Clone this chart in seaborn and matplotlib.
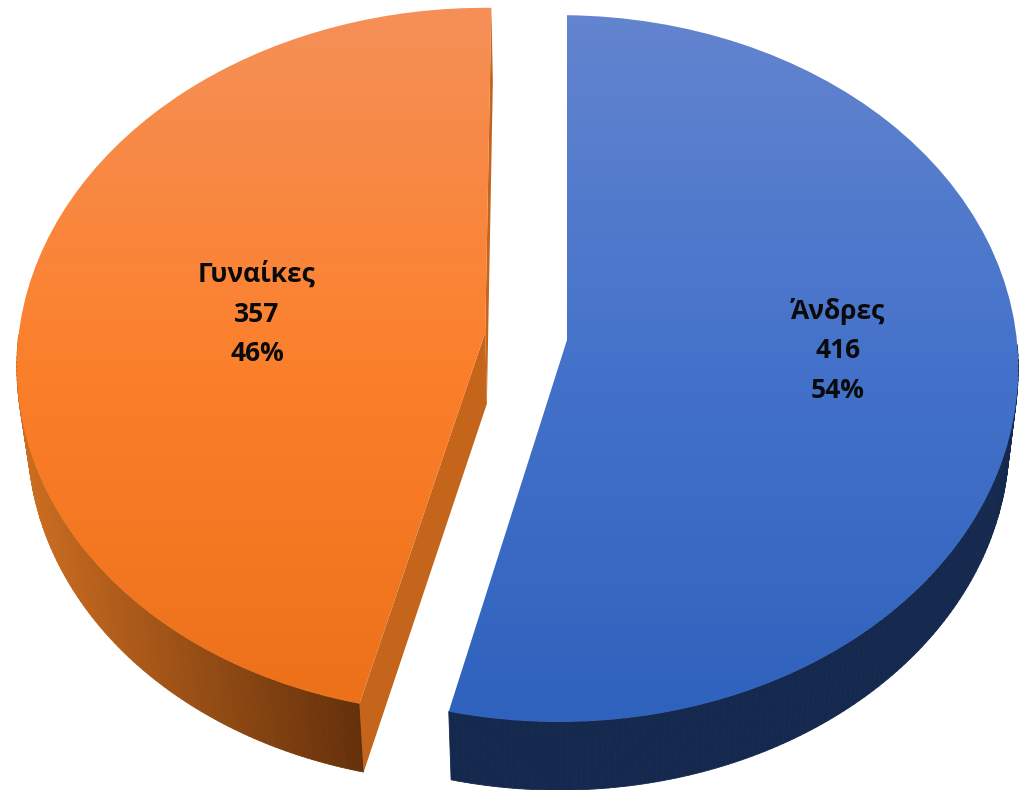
import numpy as np
import matplotlib
matplotlib.use("Agg")
import matplotlib.pyplot as plt
import seaborn as sns
from matplotlib.collections import PolyCollection
from matplotlib.transforms import Transform

categories = ["Άνδρες", "Γυναίκες"]
counts = [416, 357]
percents = [54, 46]
explode = [0, 0.18]

top_colors = [["#6485CF", "#4472CA", "#2F62BD"], ["#F59058", "#FC802C", "#EC7018"]]
side_colors = [["#16294F", "#15284E"], ["#CB6C20", "#63300A"]]
cut_color = "#C5651B"
label_xy = [(838, 351), (257, 314)]

sns.set_theme(style="white")
plt.rcParams["font.family"] = ["Open Sans", "DejaVu Sans"]


# the pie is drawn in unit coordinates, this gives it the tilted 3D view
class Tilt(Transform):
    input_dims = 2
    output_dims = 2

    def transform_non_affine(self, values):
        x, y = np.asarray(values).T
        w = 1 + 0.0807 * y + 0.016 * x
        return np.column_stack([567 + 457 * x / w, 340 - 351 * y / w])


def lower(points):
    # same outline on the underside of the pie
    points = np.asarray(points, dtype=float)
    return np.column_stack([567 + (points[:, 0] - 567) * 0.98,
                            points[:, 1] + 74 - 0.008 * points[:, 1]])


fig = plt.figure(figsize=(10.2, 7.9), dpi=100)
ax = fig.add_axes([0, 0, 1, 1])
wedges, _ = ax.pie(counts, explode=explode, startangle=90, counterclock=False)
ax.set_aspect("auto")
ax.axis("off")

tilt = Tilt()
grad = np.linspace(0, 1, 256).reshape(-1, 1)

for i, wedge in enumerate(wedges):
    center = np.array(wedge.center)
    theta = np.radians(np.linspace(wedge.theta1, wedge.theta2, 240))
    theta_front = theta[np.sin(theta) < 0]
    rim_all = tilt.transform(center + np.column_stack([np.cos(theta), np.sin(theta)]))
    rim = tilt.transform(center + np.column_stack([np.cos(theta_front), np.sin(theta_front)]))
    rim_low = lower(rim)
    apex = tilt.transform(center.reshape(1, 2))

    # outer wall, only the front part shows, shaded from left to right
    quads = [[rim[j], rim[j + 1], rim_low[j + 1], rim_low[j]] for j in range(len(rim) - 1)]
    cmap = sns.blend_palette(side_colors[i], as_cmap=True)
    shade = cmap(np.clip((rim[:-1, 0] - 25) / 335, 0, 1))
    ax.add_collection(PolyCollection(quads, facecolors=shade, edgecolors=shade, linewidths=0.6, zorder=1))

    # flat cut faces, the blue ones are hidden under the top face
    if i == 1:
        for end in (0, -1):
            face = np.vstack([apex, rim_all[[end]], lower(rim_all[[end]]), lower(apex)])
            ax.fill(face[:, 0], face[:, 1], color=cut_color, lw=0, zorder=1.5)

    # top face with its vertical gradient
    wedge.set_transform(tilt + ax.transData)
    wedge.set_facecolor("none")
    wedge.set_edgecolor("none")
    im = ax.imshow(grad, cmap=sns.blend_palette(top_colors[i], as_cmap=True),
                   extent=[0, 1020, 725, 5], aspect="auto", zorder=2)
    im.set_clip_path(wedge)

    ax.text(label_xy[i][0], label_xy[i][1], f"{categories[i]}\n{counts[i]}\n{percents[i]}%",
            ha="center", va="center", fontsize=19, fontweight="bold", color="#0A0A0A",
            linespacing=1.6, zorder=3)

ax.set_xlim(0, 1020)
ax.set_ylim(790, 0)
fig.savefig("out.png", dpi=100, facecolor="white")
